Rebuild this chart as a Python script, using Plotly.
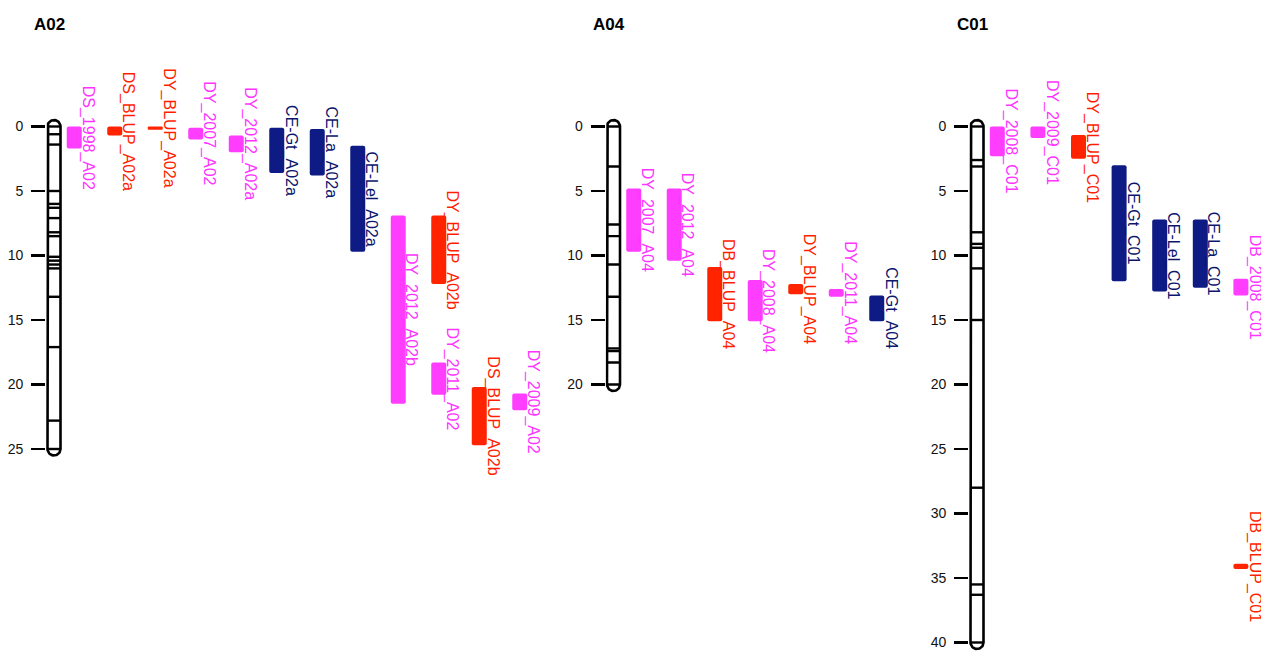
import numpy as np
import plotly.graph_objects as go

# ---------------- data ----------------
chrom_names = ["A02", "A04", "C01"]
chrom_lengths = [25, 20, 40]
markers_A02 = [0, 0.6, 1.4, 5.0, 6.0, 6.3, 7.1, 8.2, 8.5, 10.1, 10.4, 10.7, 11.0, 13.2, 17.1, 22.8, 25]
markers_A04 = [0, 3.1, 7.6, 8.5, 10.7, 13.2, 17.2, 17.4, 18.3, 20]
markers_C01 = [0, 2.6, 3.1, 8.2, 9.1, 9.4, 11.0, 15.0, 28.0, 35.5, 36.3, 40]
chrom_markers = [markers_A02, markers_A04, markers_C01]

qtl_names = ["DS_1998_A02", "DS_BLUP_A02a", "DY_BLUP_A02a", "DY_2007_A02", "DY_2012_A02a",
             "CE-Gt_A02a", "CE-La_A02a", "CE-Lel_A02a", "DY_2012_A02b", "DY_BLUP_A02b",
             "DY_2011_A02", "DS_BLUP_A02b", "DY_2009_A02",
             "DY_2007_A04", "DY_2012_A04", "DB_BLUP_A04", "DY_2008_A04", "DY_BLUP_A04",
             "DY_2011_A04", "CE-Gt_A04",
             "DY_2008_C01", "DY_2009_C01", "DY_BLUP_C01", "CE-Gt_C01", "CE-Lel_C01",
             "CE-La_C01", "DB_2008_C01", "DB_BLUP_C01"]
qtl_chrom = ["A02"] * 13 + ["A04"] * 7 + ["C01"] * 8
qtl_start = [0.0, 0.0, 0.0, 0.1, 0.7, 0.1, 0.2, 1.5, 6.9, 6.9, 18.3, 20.2, 20.7,
             4.8, 4.8, 10.9, 11.9, 12.2, 12.6, 13.1,
             0.0, 0.0, 0.65, 3.0, 7.2, 7.2, 11.8, 33.9]
qtl_end = [1.7, 0.7, 0.25, 1.0, 2.0, 3.6, 3.8, 9.7, 21.5, 12.2, 20.8, 24.7, 22.0,
           9.7, 10.4, 15.1, 15.1, 13.0, 13.2, 15.1,
           2.3, 0.9, 2.5, 12.0, 12.8, 12.5, 13.1, 34.3]
qtl_column = [1, 2, 3, 4, 5, 6, 7, 8, 9, 10, 10, 11, 12,
              1, 2, 3, 4, 5, 6, 7,
              1, 2, 3, 4, 5, 6, 7, 7]
qtl_type = ["year", "blup", "blup", "year", "year", "ce", "ce", "ce", "year", "blup",
            "year", "blup", "year",
            "year", "year", "blup", "year", "blup", "year", "ce",
            "year", "year", "blup", "ce", "ce", "ce", "year", "blup"]

# ---------------- styles / layout constants ----------------
bar_colors = {"year": "#FF3DFF", "blup": "#FF2300", "ce": "#0F1B85"}
text_colors = {"year": "#FF33FF", "blup": "#FF1E00", "ce": "#0B166E"}
FONT = "Arial, Liberation Sans, sans-serif"

W, H = 1261, 651
PX_Y = 12.9          # pixels per cM
Y0_PX = 126.5        # pixel row of 0 cM
PAD = 1.4            # px of room left of chromosome outline
chrom_center_px = {"A02": 54, "A04": 613.5, "C01": 977}
panel_right_px = {"A02": 585, "A04": 945, "C01": W}
col_px = {"A02": 40.5, "A04": 40.5, "C01": 40.6}

yrange = [(H - Y0_PX) / PX_Y, -Y0_PX / PX_Y]

fig = go.Figure()
layout_axes = {}
annotations = []

for i, (cname, clen, marks) in enumerate(zip(chrom_names, chrom_lengths, chrom_markers)):
    sfx = "" if i == 0 else str(i + 1)
    xa, ya = "x" + sfx, "y" + sfx
    pxx = col_px[cname]
    hw = 6.5 / pxx
    bw = 15 / pxx
    left_px = chrom_center_px[cname] - 6.5 - PAD
    right_px = panel_right_px[cname]
    x0 = -hw - PAD / pxx
    layout_axes["xaxis" + sfx] = dict(
        domain=[left_px / W, right_px / W],
        range=[x0, x0 + (right_px - left_px) / pxx],
        visible=False, anchor=ya, fixedrange=True)
    layout_axes["yaxis" + sfx] = dict(
        domain=[0, 1], range=yrange, anchor=xa,
        tickmode="array", tickvals=list(range(0, clen + 1, 5)),
        ticks="outside", ticklen=14, tickwidth=2.5, tickcolor="black",
        showline=False, showgrid=False, zeroline=False,
        tickfont=dict(family=FONT, size=14, color="#111111"),
        ticklabelstandoff=5, ticklabeloverflow="allow",
        automargin=False, fixedrange=True)

    # chromosome outline (rounded ends)
    ry = 6.5 / PX_Y
    t = np.linspace(np.pi, 0, 30)
    top_x = hw * np.cos(t)
    top_y = -ry * np.sin(t)
    t2 = np.linspace(0, np.pi, 30)
    bot_x = hw * np.cos(t2)
    bot_y = clen + ry * np.sin(t2)
    ox = np.concatenate([[-hw], top_x, [hw], bot_x])
    oy = np.concatenate([[clen], top_y, [clen], bot_y])
    fig.add_trace(go.Scatter(x=ox, y=oy, mode="lines", xaxis=xa, yaxis=ya,
                             line=dict(color="black", width=2.6),
                             hoverinfo="skip", showlegend=False))
    # marker lines
    mx, my = [], []
    for m in marks:
        mx += [-hw, hw, None]
        my += [m, m, None]
    fig.add_trace(go.Scatter(x=mx, y=my, mode="lines", xaxis=xa, yaxis=ya,
                             line=dict(color="black", width=2.4),
                             hoverinfo="skip", showlegend=False))

    # QTL bars
    idx = [k for k, c in enumerate(qtl_chrom) if c == cname]
    fig.add_trace(go.Bar(
        x=[qtl_column[k] - 0.5 for k in idx],
        base=[qtl_start[k] for k in idx],
        y=[qtl_end[k] - qtl_start[k] for k in idx],
        width=[bw] * len(idx),
        marker=dict(color=[bar_colors[qtl_type[k]] for k in idx], line=dict(width=0),
                    cornerradius=2),
        xaxis=xa, yaxis=ya, hoverinfo="skip", showlegend=False))

    for k in idx:
        annotations.append(dict(
            x=qtl_column[k] - 0.5 + bw / 2, y=(qtl_start[k] + qtl_end[k]) / 2,
            xref=xa, yref=ya, text=qtl_names[k], showarrow=False, textangle=90,
            xanchor="left", yanchor="middle", xshift=-5,
            font=dict(family=FONT, size=16, color=text_colors[qtl_type[k]])))

    annotations.append(dict(
        x=0, y=(24 - Y0_PX) / PX_Y, xref=xa, yref=ya, text=cname, showarrow=False,
        xanchor="center", yanchor="middle", xshift=-5,
        font=dict(family=FONT, size=17, color="black", weight="bold")))

fig.update_layout(
    width=W, height=H, margin=dict(l=0, r=0, t=0, b=0),
    paper_bgcolor="white", plot_bgcolor="white",
    barmode="overlay", showlegend=False, annotations=annotations,
    **layout_axes)

fig.write_html(
    "out.html",
    config={"displayModeBar": False, "staticPlot": True},
    post_script="document.body.style.margin='0px';document.body.style.overflow='hidden';")
